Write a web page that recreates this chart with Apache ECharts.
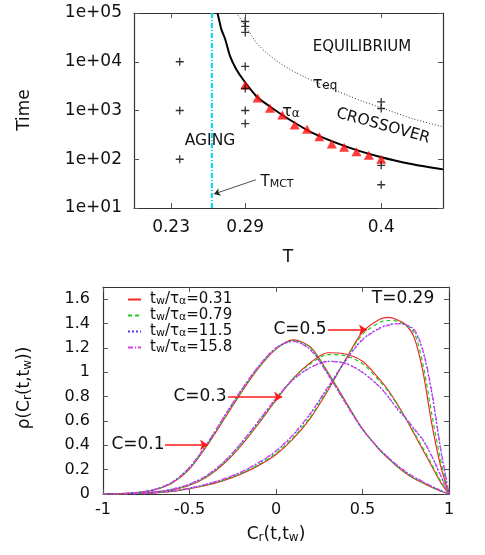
<!DOCTYPE html>
<html>
<head>
<meta charset="utf-8">
<script src="https://cdn.jsdelivr.net/npm/echarts@6/dist/echarts.min.js"></script>
<style>
html,body{margin:0;padding:0;background:#fff}
#main{width:485px;height:555px}
</style>
</head>
<body>
<div id="main"></div>
<script>
// ---------- top panel : time scales vs T ----------
var tempTicks = [0.23, 0.29, 0.4];
var tMct = 0.263;

// tau_alpha measurements (red triangles)
var tauAlphaT = [0.29, 0.30, 0.31, 0.32, 0.33, 0.34, 0.35, 0.36, 0.37, 0.38, 0.39, 0.40];
var tauAlphaTime = [3330, 1800, 1110, 810, 505, 411, 290, 206, 176, 143, 121, 100];

// fit of tau_alpha (solid black)
var fitT = [0.2675, 0.2688, 0.2708, 0.2736, 0.2777, 0.2825, 0.2884, 0.2992, 0.3099, 0.326, 0.3448, 0.3718, 0.3986, 0.4255, 0.45];
var fitTime = [100000, 73000, 45000, 30000, 13000, 7200, 4270, 1940, 1210, 646, 344, 182, 113, 79, 62];

// tau_eq (dotted)
var eqT = [0.283, 0.2911, 0.2992, 0.3073, 0.318, 0.3315, 0.3448, 0.3583, 0.3718, 0.3852, 0.3986, 0.4121, 0.4255, 0.45];
var eqTime = [100000, 49200, 24200, 15100, 9400, 5860, 4080, 2880, 2100, 1530, 1175, 885, 676, 465];

// simulated waiting times (black +)
var plusT = [0.237, 0.237, 0.237, 0.29, 0.29, 0.29, 0.29, 0.29, 0.29, 0.29, 0.4, 0.4, 0.4, 0.4];
var plusTime = [10000, 1000, 100, 67000, 53000, 40000, 8000, 2830, 1000, 540, 1500, 1100, 75, 30];

// ---------- bottom panel : distributions ----------
var crGrid = [-1, -0.9, -0.8, -0.7, -0.6, -0.5, -0.4, -0.3, -0.2, -0.1, 0, 0.1, 0.2, 0.3, 0.4, 0.5, 0.6, 0.65, 0.7, 0.75, 0.8, 0.85, 0.9, 0.95, 1];
var legendNames = ['0.31', '0.79', '11.5', '15.8'];

var c01_031 = [0, 0.003, 0.012, 0.035, 0.09, 0.205, 0.395, 0.615, 0.835, 1.035, 1.19, 1.265, 1.205, 1.0, 0.765, 0.535, 0.36, 0.29, 0.225, 0.17, 0.125, 0.09, 0.055, 0.025, 0];
var c01_079 = [0, 0.003, 0.012, 0.036, 0.092, 0.21, 0.40, 0.62, 0.84, 1.04, 1.19, 1.262, 1.2, 0.995, 0.762, 0.535, 0.362, 0.292, 0.228, 0.174, 0.128, 0.092, 0.057, 0.026, 0];
var c01_115 = [0, 0.003, 0.013, 0.038, 0.097, 0.218, 0.41, 0.635, 0.855, 1.05, 1.2, 1.255, 1.185, 0.985, 0.752, 0.53, 0.365, 0.298, 0.235, 0.182, 0.136, 0.098, 0.062, 0.029, 0];
var c01_158 = [0, 0.003, 0.013, 0.038, 0.098, 0.22, 0.412, 0.637, 0.857, 1.052, 1.2, 1.253, 1.18, 0.98, 0.75, 0.53, 0.367, 0.30, 0.238, 0.186, 0.14, 0.102, 0.065, 0.031, 0];

var c03_031 = [0, 0.002, 0.006, 0.015, 0.035, 0.072, 0.14, 0.25, 0.4, 0.58, 0.77, 0.95, 1.08, 1.16, 1.15, 1.09, 0.94, 0.85, 0.74, 0.62, 0.49, 0.36, 0.23, 0.1, 0];
var c03_079 = [0, 0.002, 0.006, 0.015, 0.036, 0.074, 0.143, 0.255, 0.405, 0.585, 0.775, 0.95, 1.07, 1.145, 1.135, 1.07, 0.925, 0.84, 0.735, 0.625, 0.5, 0.375, 0.245, 0.11, 0];
var c03_115 = [0, 0.002, 0.007, 0.017, 0.04, 0.08, 0.152, 0.265, 0.42, 0.6, 0.785, 0.94, 1.04, 1.09, 1.075, 1.0, 0.88, 0.795, 0.70, 0.62, 0.53, 0.44, 0.31, 0.155, 0];
var c03_158 = [0, 0.002, 0.007, 0.017, 0.04, 0.081, 0.153, 0.267, 0.422, 0.602, 0.786, 0.94, 1.038, 1.088, 1.073, 0.998, 0.878, 0.795, 0.705, 0.625, 0.535, 0.445, 0.315, 0.16, 0];

var c05_031 = [0, 0.001, 0.004, 0.01, 0.022, 0.043, 0.072, 0.112, 0.165, 0.235, 0.325, 0.455, 0.625, 0.85, 1.10, 1.33, 1.435, 1.45, 1.43, 1.39, 1.28, 1.0, 0.58, 0.24, 0];
var c05_079 = [0, 0.001, 0.004, 0.01, 0.023, 0.045, 0.075, 0.116, 0.17, 0.242, 0.333, 0.465, 0.635, 0.86, 1.095, 1.31, 1.41, 1.425, 1.42, 1.385, 1.32, 1.06, 0.66, 0.29, 0];
var c05_115 = [0, 0.001, 0.004, 0.011, 0.025, 0.048, 0.08, 0.123, 0.18, 0.255, 0.35, 0.485, 0.66, 0.875, 1.09, 1.27, 1.365, 1.39, 1.40, 1.39, 1.34, 1.17, 0.83, 0.38, 0];
var c05_158 = [0, 0.001, 0.004, 0.011, 0.025, 0.049, 0.082, 0.126, 0.183, 0.26, 0.355, 0.49, 0.665, 0.88, 1.09, 1.265, 1.36, 1.385, 1.40, 1.39, 1.35, 1.18, 0.85, 0.39, 0];

var rhoTicks = [0, 0.2, 0.4, 0.6, 0.8, 1, 1.2, 1.4, 1.6];

var FONT = 'DejaVu Sans';
var INK = '#111';
var lineColors = ['#f02828', '#18d018', '#4a3cf0', '#e040f0'];
var lineTypes = ['solid', [4, 3], [2, 2], [5, 2, 1, 2]];

function richOf(size) {
	return {
		m: { fontFamily: FONT, fontSize: size, color: INK, lineHeight: size, verticalAlign: 'top' },
		s: { fontFamily: FONT, fontSize: Math.round(size * 0.72), color: INK, lineHeight: 9, padding: [Math.round(size * 0.55), 0, 0, 0], verticalAlign: 'bottom' }
	};
}

function zip(xs, ys) {
	return xs.map(function (x, i) { return [x, ys[i]]; });
}

function mirrorTick(extra) {
	var ax = {
		axisLine: { show: true, onZero: false, lineStyle: { color: '#333', width: 1.2 } },
		axisTick: { show: true, inside: true, length: 5, lineStyle: { color: '#555' } },
		axisLabel: { show: false },
		splitLine: { show: false }
	};
	for (var k in extra) ax[k] = extra[k];
	return ax;
}

var groups = [
	[c01_031, c01_079, c01_115, c01_158],
	[c03_031, c03_079, c03_115, c03_158],
	[c05_031, c05_079, c05_115, c05_158]
];

var series = [
	{
		type: 'line', xAxisIndex: 0, yAxisIndex: 0,
		data: zip(fitT, fitTime), smooth: 0.25, showSymbol: false, symbol: 'none',
		lineStyle: { color: '#000', width: 2 }, silent: true, z: 3
	},
	{
		type: 'line', xAxisIndex: 0, yAxisIndex: 0,
		data: zip(eqT, eqTime), smooth: 0.25, showSymbol: false, symbol: 'none',
		lineStyle: { color: '#333', width: 1, type: [1, 2] }, silent: true
	},
	{
		type: 'line', xAxisIndex: 0, yAxisIndex: 0,
		data: [[tMct, 10], [tMct, 100000]], showSymbol: false, symbol: 'none',
		lineStyle: { color: '#10d8ec', width: 2.2, type: [5, 2, 1, 2] }, silent: true
	},
	{
		type: 'scatter', xAxisIndex: 0, yAxisIndex: 0,
		data: zip(tauAlphaT, tauAlphaTime), symbol: 'triangle', symbolSize: [10, 9],
		itemStyle: { color: '#ff0a0a' }, silent: true, z: 4
	},
	{
		type: 'scatter', xAxisIndex: 0, yAxisIndex: 0,
		data: zip(plusT, plusTime), symbol: 'path://M0,5L10,5M5,0L5,10', symbolSize: 8,
		itemStyle: { color: 'none', borderColor: '#000', borderWidth: 1.3 }, silent: true, z: 5,
		markLine: {
			silent: true, symbol: ['none', 'arrow'], symbolSize: 6,
			label: { show: false },
			lineStyle: { color: '#222', width: 0.8, type: 'solid' },
			data: [[{ coord: [0.2986, 38] }, { coord: [0.2648, 19.4] }]]
		}
	}
];

groups.forEach(function (grp, g) {
	grp.forEach(function (vals, k) {
		var s = {
			name: legendNames[k],
			type: 'line', xAxisIndex: 2, yAxisIndex: 2,
			data: zip(crGrid, vals), smooth: 0.3, showSymbol: false, symbol: 'none',
			lineStyle: { color: lineColors[k], width: 1.2, type: lineTypes[k] },
			itemStyle: { color: lineColors[k] },
			silent: true
		};
		if (g === 0 && k === 0) {
			s.markLine = {
				silent: true, symbol: ['none', 'arrow'], symbolSize: 8,
				label: { show: false },
				lineStyle: { color: '#ff1a1a', width: 1.5, type: 'solid' },
				data: [
					[{ coord: [0.30, 1.348] }, { coord: [0.526, 1.348] }],
					[{ coord: [-0.277, 0.797] }, { coord: [0.035, 0.797] }],
					[{ coord: [-0.642, 0.403] }, { coord: [-0.393, 0.403] }]
				]
			};
		}
		series.push(s);
	});
});

function txt(x, y, text, size, extra) {
	var el = {
		type: 'text', x: x, y: y, silent: true,
		style: {
			text: text, fontFamily: FONT, fontSize: size, fill: INK,
			align: 'center', verticalAlign: 'middle', rich: richOf(size)
		}
	};
	for (var k in extra) el[k] = extra[k];
	return el;
}

var option = {
	animation: false,
	backgroundColor: '#fff',
	grid: [
		{ left: 134, top: 13, width: 309, height: 195, outerBoundsMode: 'none', containLabel: false },
		{ left: 103, top: 287, width: 346, height: 207, outerBoundsMode: 'none', containLabel: false }
	],
	xAxis: [
		{
			gridIndex: 0, type: 'value', min: 0.2, max: 0.45,
			axisLine: { show: true, onZero: false, lineStyle: { color: '#333', width: 1.2 } },
			axisTick: { show: true, inside: true, length: 5, customValues: tempTicks, lineStyle: { color: '#555' } },
			axisLabel: { customValues: tempTicks, margin: 11, color: INK, fontFamily: FONT, fontSize: 17 },
			splitLine: { show: false }
		},
		mirrorTick({ gridIndex: 0, type: 'value', position: 'top', min: 0.2, max: 0.45,
			axisTick: { show: true, inside: true, length: 5, customValues: tempTicks, lineStyle: { color: '#555' } } }),
		{
			gridIndex: 1, type: 'value', min: -1, max: 1, interval: 0.5,
			axisLine: { show: true, onZero: false, lineStyle: { color: '#333', width: 1.2 } },
			axisTick: { show: true, inside: true, length: 5, lineStyle: { color: '#555' } },
			axisLabel: { margin: 8, color: INK, fontFamily: FONT, fontSize: 16 },
			splitLine: { show: false }
		},
		mirrorTick({ gridIndex: 1, type: 'value', position: 'top', min: -1, max: 1, interval: 0.5 })
	],
	yAxis: [
		{
			gridIndex: 0, type: 'log', logBase: 10, min: 10, max: 100000,
			axisLine: { show: true, onZero: false, lineStyle: { color: '#333', width: 1.2 } },
			axisTick: { show: true, inside: true, length: 5, lineStyle: { color: '#555' } },
			axisLabel: {
				margin: 12, color: INK, fontFamily: FONT, fontSize: 17,
				formatter: function (v) {
					var e = Math.round(Math.log10(v));
					return '1e+' + (e < 10 ? '0' : '') + e;
				}
			},
			splitLine: { show: false }
		},
		mirrorTick({ gridIndex: 0, type: 'log', logBase: 10, position: 'right', min: 10, max: 100000 }),
		{
			gridIndex: 1, type: 'value', min: 0, max: 1.7, interval: 0.2,
			axisLine: { show: true, onZero: false, lineStyle: { color: '#333', width: 1.2 } },
			axisTick: { show: true, inside: true, length: 5, customValues: rhoTicks, lineStyle: { color: '#555' } },
			axisLabel: { customValues: rhoTicks, margin: 13, color: INK, fontFamily: FONT, fontSize: 16 },
			splitLine: { show: false }
		},
		mirrorTick({ gridIndex: 1, type: 'value', position: 'right', min: 0, max: 1.7, interval: 0.2,
			axisTick: { show: true, inside: true, length: 5, customValues: rhoTicks, lineStyle: { color: '#555' } } })
	],
	legend: {
		show: true, orient: 'vertical', left: 122, top: 283,
		itemWidth: 13, itemHeight: 8, itemGap: -3, padding: 5,
		data: legendNames,
		itemStyle: { opacity: 0 },
		formatter: function (name) {
			return '{m|t}{s|w}{m|/τ}{s|α}{m|=' + name + '}';
		},
		textStyle: { fontFamily: FONT, fontSize: 15, color: INK, padding: [0, 0, 0, 4], rich: richOf(15) }
	},
	graphic: [
		txt(25, 110, 'Time', 17, { rotation: Math.PI / 2 }),
		txt(288, 258, 'T', 17),
		txt(362, 47, 'EQUILIBRIUM', 15),
		txt(325, 84, '{m|τ}{s|eq}', 16),
		txt(383, 126, 'CROSSOVER', 15.5, { rotation: -0.27 }),
		txt(291, 112, '{m|τ}{s|α}', 16),
		txt(210, 141, 'AGING', 15.5),
		txt(277, 182, '{m|T}{s|MCT}', 15),
		txt(300, 330, 'C=0.5', 17),
		txt(200, 397, 'C=0.3', 17),
		txt(138, 445, 'C=0.1', 17),
		txt(403, 299, 'T=0.29', 17),
		txt(276, 535, '{m|C}{s|r}{m|(t,t}{s|w}{m|)}', 17),
		txt(25, 388, '{m|ρ(C}{s|r}{m|(t,t}{s|w}{m|))}', 17, { rotation: Math.PI / 2 })
	],
	series: series
};

var myChart = echarts.init(document.getElementById('main'), null, { renderer: 'canvas' });
myChart.setOption(option);
</script>
</body>
</html>
